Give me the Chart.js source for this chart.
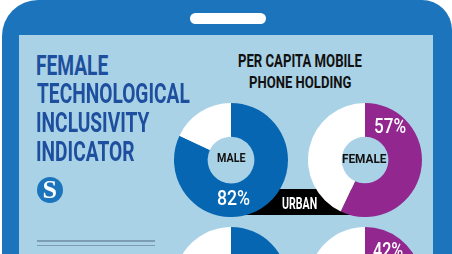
<!DOCTYPE html>
<html>
<head>
<meta charset="utf-8">
<script src="https://cdn.jsdelivr.net/npm/chart.js@4.4.1/dist/chart.umd.min.js"></script>
<style>
  html, body { margin: 0; padding: 0; }
  body { width: 452px; height: 254px; overflow: hidden; position: relative; background: #ffffff; }
  .abs { position: absolute; }
  .txt { position: absolute; white-space: nowrap; transform-origin: 0 0; }
</style>
</head>
<body>
<div id="stage" class="abs" style="left:0;top:0;width:452px;height:254px;overflow:hidden;"></div>
<script>
// ---- data ----
const areas = ['URBAN', 'RURAL'];
const maleShare = [82, 69];     // % per capita mobile phone holding, male (urban, rural)
const femaleShare = [57, 42];   // % female (urban, rural)
const genderLabels = ['MALE', 'FEMALE'];
const titleLines = ['FEMALE', 'TECHNOLOGICAL', 'INCLUSIVITY', 'INDICATOR'];
const headerLines = ['PER CAPITA MOBILE', 'PHONE HOLDING'];

// ---- styles ----
const FRAME = '#1c75bc';
const SCREEN = '#a9d2e6';
const BLUE = '#0766b2';
const PURPLE = '#92278f';
const TITLE = '#1d4f9e';

const stage = document.getElementById('stage');
function box(css) {
  const d = document.createElement('div');
  d.className = 'abs';
  Object.assign(d.style, css);
  stage.appendChild(d);
  return d;
}

// phone frame
box({ left: '2px', top: '0px', width: '450px', height: '400px', background: FRAME,
      borderTopLeftRadius: '36px', borderTopRightRadius: '30px' });
// speaker slot
box({ left: '190px', top: '13px', width: '76px', height: '11px', background: '#ffffff', borderRadius: '6px' });
// screen
box({ left: '19px', top: '35px', width: '414px', height: '400px', background: SCREEN });
// divider lines
box({ left: '37px', top: '240px', width: '118px', height: '1.5px', background: '#7d9db5' });
box({ left: '37px', top: '244.5px', width: '118px', height: '1.5px', background: '#7d9db5' });
// logo circle
box({ left: '37px', top: '176.5px', width: '26px', height: '26px', background: FRAME, borderRadius: '50%' });
// black band behind urban doughnuts
box({ left: '231px', top: '189px', width: '133px', height: '26px', background: '#000000' });

// ---- doughnuts ----
function doughnut(cx, cy, value, color) {
  const size = 114;
  const c = document.createElement('canvas');
  c.width = size; c.height = size;
  c.className = 'abs';
  c.style.left = (cx - size / 2) + 'px';
  c.style.top = (cy - size / 2) + 'px';
  c.style.width = size + 'px';
  c.style.height = size + 'px';
  stage.appendChild(c);
  new Chart(c, {
    type: 'doughnut',
    data: {
      labels: ['share', 'rest'],
      datasets: [{ data: [value, 100 - value], backgroundColor: [color, '#ffffff'], borderWidth: 0 }]
    },
    options: {
      responsive: false, animation: false, devicePixelRatio: 1, events: [],
      cutout: '41%', rotation: 0,
      layout: { padding: 0 },
      plugins: { legend: { display: false }, tooltip: { enabled: false } }
    }
  });
}
const colsX = [231, 364.5];
const rowsY = [160, 283.5];
for (let r = 0; r < areas.length; r++) {
  doughnut(colsX[0], rowsY[r], maleShare[r], BLUE);
  doughnut(colsX[1], rowsY[r], femaleShare[r], PURPLE);
}

// ---- text ----
const mctx = document.createElement('canvas').getContext('2d');
function txt(str, o) {
  const fam = o.family || 'Roboto';
  const w = o.weight || 700;
  mctx.font = `${w} 100px ${fam}`;
  const capRatio = mctx.measureText('H').actualBoundingBoxAscent / 100;
  const fs = o.capH / capRatio;
  mctx.font = `${w} ${fs}px ${fam}`;
  const m = mctx.measureText(str);
  const asc = m.fontBoundingBoxAscent, desc = m.fontBoundingBoxDescent;
  const inkStart = -m.actualBoundingBoxLeft;
  const ink = m.actualBoundingBoxRight + m.actualBoundingBoxLeft;
  const scale = o.scale || (o.width / ink);
  const inkW = ink * scale;
  const left = (o.cx !== undefined ? o.cx - inkW / 2 : o.x) - inkStart * scale;
  const baseline = o.capTop + o.capH;
  const d = document.createElement('div');
  d.className = 'txt';
  d.textContent = str;
  Object.assign(d.style, {
    left: left + 'px', top: (baseline - asc) + 'px',
    font: `${w} ${fs}px ${fam}`, lineHeight: (asc + desc) + 'px',
    color: o.color, transform: `scaleX(${scale})`
  });
  stage.appendChild(d);
  return scale;
}

// title
const titleTops = [55, 83, 112, 141];
const titleScale = (function () {
  mctx.font = `700 100px Roboto`;
  const cap = mctx.measureText('H').actualBoundingBoxAscent / 100;
  const fs = 19.5 / cap;
  mctx.font = `700 ${fs}px Roboto`;
  const m = mctx.measureText(titleLines[1]);
  return 153 / (m.actualBoundingBoxRight + m.actualBoundingBoxLeft);
})();
titleLines.forEach((t, i) => txt(t, { x: 37, capTop: titleTops[i], capH: 19.5, scale: titleScale, color: TITLE }));

// header
txt(headerLines[0], { cx: 300.5, capTop: 53.5, capH: 13, width: 123, color: '#111111' });
txt(headerLines[1], { cx: 300.5, capTop: 75, capH: 12.5, width: 101, color: '#111111' });

// centre labels
txt(genderLabels[0], { cx: 231.5, capTop: 152, capH: 9.5, width: 29, color: '#111111' });
txt(genderLabels[1], { cx: 364.5, capTop: 153, capH: 9.5, width: 45, color: '#111111' });

// values
txt(maleShare[0] + '%', { cx: 234, capTop: 190, capH: 15, width: 32, color: '#ffffff', weight: 500 });
txt(femaleShare[0] + '%', { cx: 390.5, capTop: 118, capH: 15, width: 31, color: '#ffffff', weight: 500 });
txt(femaleShare[1] + '%', { cx: 388, capTop: 242, capH: 15, width: 30, color: '#ffffff', weight: 500 });

// band label
txt(areas[0], { cx: 299.5, capTop: 196.5, capH: 12.5, width: 35, color: '#ffffff' });

// logo letter
txt('S', { cx: 50, capTop: 181, capH: 17, width: 13, color: '#ffffff', family: '"Liberation Serif"', weight: 700 });
</script>
</body>
</html>
